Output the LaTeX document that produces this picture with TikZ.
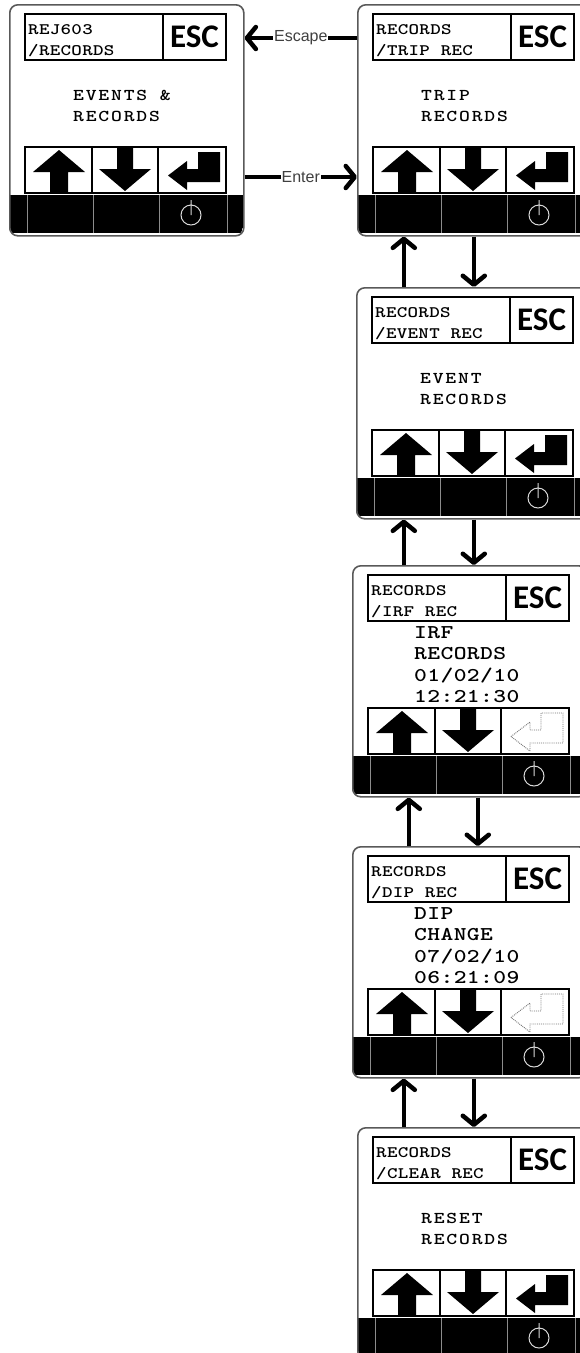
\documentclass[tikz,border=0pt]{standalone}
\usepackage{fontspec}
\usepackage{tikz}
\usetikzlibrary{arrows.meta, calc}
\newfontfamily\lcdfont{lmmonolt10-bold.otf}[FakeStretch=1.25]
\newfontfamily\escfont{Carlito}
\newfontfamily\tagfont{Liberation Sans}

% one keypad screen: name, left, top, title lines, body style, body, enter key style
\newcommand{\devscreen}[8]{%
  \begin{scope}[shift={(#2,#3)}]
    \begin{scope}
      \clip[rounded corners=8pt] (0,0) rectangle (234,231);
      \fill[black] (0,191) rectangle (234,229);
    \end{scope}
    \foreach \sx in {18,84,150,218}
      \draw[barsep] (\sx,191) -- (\sx,229);
    \node[screenframe] (#1) at (0,0) {};
    % title bar
    \draw[lcdline] (16,10) rectangle (217,56) (154,10) -- (154,56);
    \node[titletext] (#1-title) at (19,20) {#4\\#5};
    \node[esctext] (#1-esc) at (185.5,33) {ESC};
    % display text
    \node[#6] (#1-body) {#7};
    % keys
    \draw[lcdline] (16,143) rectangle (217,189) (83,143) -- (83,189) (149,143) -- (149,189);
    \fill (50,146) -- (76,168) -- (59,168) -- (59,189) -- (41,189) -- (41,168) -- (24,168) -- cycle;
    \fill (108,143) -- (124,143) -- (124,165) -- (142,165) -- (116,187) -- (90,165) -- (108,165) -- cycle;
    \path[#8] (159,171.5) -- (178,157) -- (178,165) -- (189,165) -- (189,148) -- (211,148)
      -- (211,178) -- (178,178) -- (178,186) -- cycle;
    % power key
    \draw[powerkey] (182,211) circle[radius=10pt] (182,211) -- (182,196);
  \end{scope}}

\begin{document}
\begin{tikzpicture}[x=1pt, y=-1pt,
  screenframe/.style={draw=black!65, line width=1.6pt, rounded corners=8pt,
    minimum width=234pt, minimum height=231pt, anchor=north west, inner sep=0pt},
  lcdline/.style={draw=black, line width=1.1pt},
  barsep/.style={draw=black!45, line width=1pt},
  powerkey/.style={draw=black!15, line width=1pt},
  titletext/.style={font=\lcdfont\fontsize{16}{21}\selectfont\addfontfeature{LetterSpace=2},
    align=left, anchor=north west, inner sep=0pt},
  esctext/.style={font=\escfont\bfseries\fontsize{33}{33}\selectfont, inner sep=0pt},
  body2/.style={font=\lcdfont\fontsize{16.5}{21}\selectfont\addfontfeature{LetterSpace=11},
    align=left, anchor=north west, inner sep=0pt, at={(64,86)}},
  body4/.style={font=\lcdfont\fontsize{19.5}{21.5}\selectfont\addfontfeature{LetterSpace=2},
    align=left, anchor=north west, inner sep=0pt, at={(62,61)}},
  keyon/.style={fill=black},
  keyoff/.style={draw=black!55, densely dotted, line width=0.9pt},
  flowarrow/.style={line width=4.5pt, -{Straight Barb[length=9pt,width=22pt,round]}},
  flowlabel/.style={font=\tagfont\fontsize{16}{16}\selectfont, text=black!75, fill=white, inner sep=1pt}]
\useasboundingbox (0,0) rectangle (580,1353);
\clip (0,0) rectangle (580,1353);

% menu entry
\devscreen{recs}{9}{4}{REJ603}{/RECORDS}{body2}{EVENTS \&\\RECORDS}{keyon}

% record screens
\devscreen{trip}{357}{4}{RECORDS}{/TRIP REC}{body2}{TRIP\\RECORDS}{keyon}
\devscreen{event}{356}{287}{RECORDS}{/EVENT REC}{body2}{EVENT\\RECORDS}{keyon}
\devscreen{irf}{352}{565}{RECORDS}{/IRF REC}{body4}{IRF\\RECORDS\\01/02/10\\12:21:30}{keyoff}
\devscreen{dip}{352}{846}{RECORDS}{/DIP REC}{body4}{DIP\\CHANGE\\07/02/10\\06:21:09}{keyoff}
\devscreen{clear}{357}{1127}{RECORDS}{/CLEAR REC}{body2}{RESET\\RECORDS}{keyon}

% escape / enter
\draw[flowarrow] ([yshift=-34pt]trip.north west) -- node[flowlabel] (escapetag) {Escape} ([yshift=-34pt]recs.north east);
\draw[flowarrow] ([yshift=-173pt]recs.north east) -- node[flowlabel] (entertag) {Enter} ([yshift=-173pt]trip.north west);

% up / down between screens
\foreach \upper/\lower/\ux/\dx in {trip/event/-70/0, event/irf/-66/4, irf/dip/-61/8, dip/clear/-71/-1} {
  \coordinate (\lower-up) at ([xshift=\ux pt]\lower.north);
  \coordinate (\lower-dn) at ([xshift=\dx pt]\lower.north);
  \draw[flowarrow] (\lower-up) -- (\lower-up |- \upper.south);
  \draw[flowarrow] (\lower-dn |- \upper.south) -- (\lower-dn);
}
\end{tikzpicture}
\end{document}
